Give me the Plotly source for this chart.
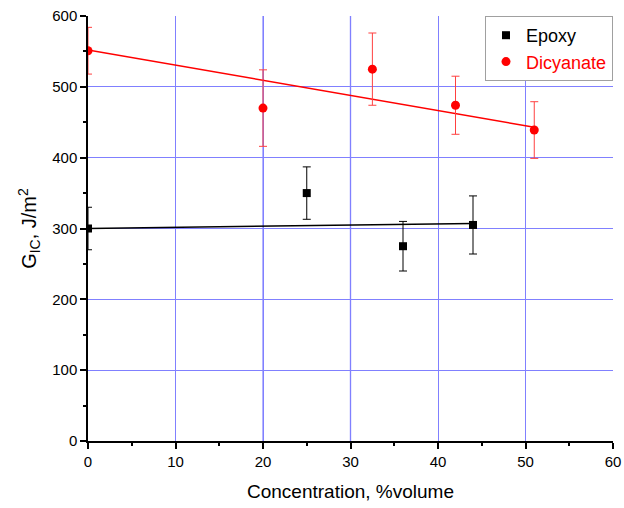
import plotly.graph_objects as go

# Data
epoxy_x = [0, 25, 36, 44]
epoxy_y = [300, 350, 275, 305]
epoxy_err = [30, 37, 35, 41]

dicy_x = [0, 20, 32.5, 42, 51]
dicy_y = [551, 470, 525, 474, 439]
dicy_err = [33, 54, 51, 41, 40]

epoxy_fit_x = [0, 44]
epoxy_fit_y = [300, 307]
dicy_fit_x = [0, 51]
dicy_fit_y = [552, 443]

x_ticks = [0, 10, 20, 30, 40, 50, 60]
y_ticks = [0, 100, 200, 300, 400, 500, 600]

FONT = "Liberation Sans, Arial, sans-serif"
GRID = "#8080ff"

fig = go.Figure()

# darker vertical grid lines as seen in the reference rendering
fig.add_vline(x=20, line=dict(color="#6a6aff", width=1), layer="below")
fig.add_vline(x=30, line=dict(color="#2a2aff", width=1.2), layer="below")

fig.add_trace(go.Scatter(x=epoxy_fit_x, y=epoxy_fit_y, mode="lines",
                         line=dict(color="black", width=1.5), showlegend=False, hoverinfo="skip"))
fig.add_trace(go.Scatter(x=dicy_fit_x, y=dicy_fit_y, mode="lines",
                         line=dict(color="red", width=1.5), showlegend=False, hoverinfo="skip"))

fig.add_trace(go.Scatter(
    x=epoxy_x, y=epoxy_y, mode="markers", name="Epoxy",
    marker=dict(symbol="square", size=8, color="black"),
    error_y=dict(type="data", array=epoxy_err, visible=True, color="black", thickness=1, width=4)))
fig.add_trace(go.Scatter(
    x=dicy_x, y=dicy_y, mode="markers", name="<span style='color:red'>Dicyanate</span>",
    marker=dict(symbol="circle", size=9, color="red"),
    error_y=dict(type="data", array=dicy_err, visible=True, color="#ff4040", thickness=1, width=4)))

fig.update_layout(
    width=624, height=508,
    margin=dict(l=88, r=11, t=16, b=67),
    paper_bgcolor="white", plot_bgcolor="white",
    font=dict(family=FONT, size=15, color="black"),
    legend=dict(x=1.0, y=1.0, xanchor="right", yanchor="top",
                bordercolor="#a0a0a0", borderwidth=1, bgcolor="white",
                font=dict(size=18), itemwidth=30, tracegroupgap=0),
    xaxis=dict(range=[0, 60], tickvals=x_ticks, ticktext=[str(v) for v in x_ticks],
               showline=True, linecolor="black", linewidth=1.5, automargin=False,
               ticklabeloverflow="allow",
               ticks="outside", ticklen=6, tickwidth=1.5, tickcolor="black",
               minor=dict(dtick=5, ticks="outside", ticklen=3, tickcolor="black", showgrid=False),
               showgrid=True, gridcolor=GRID, gridwidth=1,
               zeroline=False, mirror=False,
               title=dict(text="Concentration, %volume", font=dict(size=19), standoff=16)),
    yaxis=dict(range=[0, 600], tickvals=y_ticks, ticktext=[str(v) for v in y_ticks],
               showline=True, linecolor="black", linewidth=1.5, automargin=False,
               ticklabeloverflow="allow",
               ticks="outside", ticklen=6, tickwidth=1.5, tickcolor="black",
               minor=dict(dtick=50, ticks="outside", ticklen=3, tickcolor="black", showgrid=False),
               showgrid=True, gridcolor=GRID, gridwidth=1,
               zeroline=False, mirror=False,
               title=dict(text="G<sub>IC</sub>, J/m<sup>2</sup>", font=dict(size=20), standoff=10)),
)

fig.write_html("out.html",
               config={"displayModeBar": False},
               post_script="document.body.style.margin='0';document.body.style.overflow='hidden';")
